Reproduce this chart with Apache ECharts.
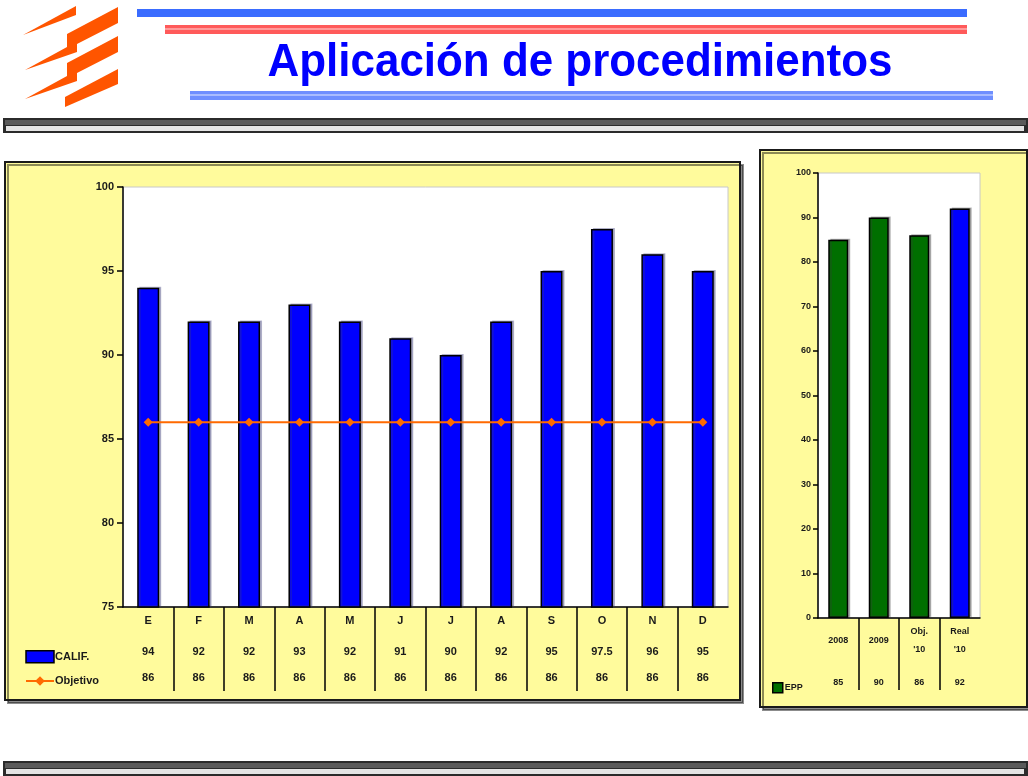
<!DOCTYPE html>
<html>
<head>
<meta charset="utf-8">
<script src="https://cdn.jsdelivr.net/npm/echarts@6/dist/echarts.min.js"></script>
<style>
  html, body { margin: 0; padding: 0; background: #fff; }
  #chart { width: 1028px; height: 776px; }
</style>
</head>
<body>
<div id="chart"></div>
<script>
// monthly chart
const months = ['E', 'F', 'M', 'A', 'M', 'J', 'J', 'A', 'S', 'O', 'N', 'D']
const califValues = [94, 92, 92, 93, 92, 91, 90, 92, 95, 97.5, 96, 95]
const objetivoValues = [86, 86, 86, 86, 86, 86, 86, 86, 86, 86, 86, 86]

// yearly chart
const years = ['2008', '2009', "Obj.\n'10", "Real\n'10"]
const eppValues = [85, 90, 86, 92]

const BLUE = '#0000ff'
const GREEN = '#006f00'
const ORANGE = '#ff6a00'
const YELLOW = '#fffb9c'
const FONT = '"Liberation Sans", Arial, sans-serif'

const chart = echarts.init(document.getElementById('chart'))

function panel(x, y, w, h) {
  return {
    type: 'rect',
    shape: { x, y, width: w, height: h },
    style: {
      fill: YELLOW,
      stroke: '#1a1a1a',
      lineWidth: 2,
      shadowColor: 'rgba(0,0,0,0.45)',
      shadowOffsetX: 3,
      shadowOffsetY: 3
    },
    z: -10
  }
}

function separator(y) {
  return [
    { type: 'rect', shape: { x: 3, y, width: 1025, height: 15 }, style: { fill: '#2b2b2b' }, z: -5 },
    { type: 'rect', shape: { x: 5, y: y + 2, width: 1021, height: 5 }, style: { fill: '#5a5a5a' }, z: -5 },
    { type: 'rect', shape: { x: 6, y: y + 8, width: 1018, height: 5 }, style: { fill: '#e4e4e4' }, z: -5 }
  ]
}

const logo = [
  [[23, 35], [76, 6], [76, 15]],
  [[25, 70], [67, 47], [67, 34], [118, 7], [118, 23], [77, 44], [77, 52]],
  [[25, 99], [67, 76], [67, 63], [118, 36], [118, 52], [77, 73], [77, 81]],
  [[65, 97], [118, 69], [118, 84], [65, 107]]
].map(points => ({
  type: 'polygon',
  shape: { points },
  style: { fill: '#ff5500' }
}))

const graphic = [
  ...logo,
  { type: 'rect', shape: { x: 137, y: 9, width: 830, height: 8 }, style: { fill: '#3a6cff' } },
  { type: 'rect', shape: { x: 165, y: 25, width: 802, height: 9 }, style: { fill: '#ff5a5a' } },
  { type: 'rect', shape: { x: 165, y: 28, width: 802, height: 2 }, style: { fill: '#ff9a9a' } },
  { type: 'rect', shape: { x: 190, y: 91, width: 803, height: 9 }, style: { fill: '#6f8fff' } },
  { type: 'rect', shape: { x: 190, y: 94, width: 803, height: 2 }, style: { fill: '#a9bcff' } },
  {
    type: 'text',
    x: 580,
    y: 63,
    scaleX: 0.955,
    style: {
      text: 'Aplicación de procedimientos',
      fill: BLUE,
      font: 'bold 46px ' + FONT,
      textAlign: 'center',
      textVerticalAlign: 'middle'
    }
  },
  ...separator(118),
  ...separator(761),
  panel(5, 162, 735, 538),
  panel(760, 150, 267, 557)
]

const axisText = { color: '#1a1a1a', fontFamily: FONT, fontWeight: 'bold' }

// helper axis: one point per category boundary, ticks only on the inner ones
function boundaryAxis(gridIndex, count, length) {
  return {
    type: 'category',
    gridIndex,
    boundaryGap: false,
    position: 'bottom',
    data: Array.from({ length: count + 1 }, (_, i) => String(i)),
    axisLine: { show: false },
    axisLabel: { show: false },
    axisTick: {
      show: true,
      interval: i => i > 0 && i < count,
      length,
      lineStyle: { color: '#000', width: 1.5 }
    }
  }
}

chart.setOption({
  animation: false,
  textStyle: { fontFamily: FONT },
  graphic,
  legend: [
    {
      data: [
        { name: 'CALIF.', icon: 'rect', itemStyle: { color: BLUE, borderColor: '#000', borderWidth: 1.5 } },
        { name: 'Objetivo' }
      ],
      orient: 'vertical',
      left: 20,
      top: 645,
      itemWidth: 28,
      itemHeight: 12,
      itemGap: 12,
      textStyle: { ...axisText, fontSize: 11, padding: [0, 0, 0, -4] }
    },
    {
      data: [{ name: 'EPP', icon: 'rect', itemStyle: { color: GREEN, borderColor: '#000', borderWidth: 1.5 } }],
      left: 767,
      top: 677,
      itemWidth: 10,
      itemHeight: 10,
      textStyle: { ...axisText, fontSize: 9, padding: [0, 0, 0, -3] }
    }
  ],
  grid: [
    { left: 123, top: 187, width: 605, height: 420, show: true, backgroundColor: '#fff', borderColor: '#c8c8c8', borderWidth: 1 },
    { left: 818, top: 173, width: 162, height: 445, show: true, backgroundColor: '#fff', borderColor: '#c8c8c8', borderWidth: 1 }
  ],
  xAxis: [
    {
      type: 'category',
      gridIndex: 0,
      data: months,
      axisLine: { lineStyle: { color: '#000', width: 1.5 } },
      axisTick: { show: false },
      axisLabel: {
        interval: 0,
        margin: -4,
        formatter: (value, i) => `{m|${value}}\n{v|${califValues[i]}}\n{v|${objetivoValues[i]}}`,
        rich: {
          m: { ...axisText, fontSize: 11, lineHeight: 36 },
          v: { ...axisText, fontSize: 11, lineHeight: 26 }
        }
      }
    },
    {
      type: 'category',
      gridIndex: 1,
      data: years,
      axisLine: { lineStyle: { color: '#000', width: 1.5 } },
      axisTick: { show: false },
      axisLabel: {
        interval: 0,
        margin: 5,
        formatter: (value, i) => {
          const parts = value.split('\n')
          const head = parts.length > 1
            ? parts.map(p => `{c|${p}}`).join('\n')
            : `{c2|${value}}`
          return `${head}\n{v|${eppValues[i]}}`
        },
        rich: {
          c: { ...axisText, fontSize: 9, lineHeight: 18 },
          c2: { ...axisText, fontSize: 9, lineHeight: 36 },
          v: { ...axisText, fontSize: 9, lineHeight: 48 }
        }
      }
    },
    boundaryAxis(0, months.length, 84),
    boundaryAxis(1, years.length, 72)
  ],
  yAxis: [
    {
      type: 'value',
      gridIndex: 0,
      min: 75,
      max: 100,
      interval: 5,
      splitLine: { show: false },
      axisLine: { show: true, lineStyle: { color: '#000', width: 1.5 } },
      axisTick: { show: true, length: 6, lineStyle: { color: '#000', width: 1.5 } },
      axisLabel: { ...axisText, fontSize: 11, margin: 9 }
    },
    {
      type: 'value',
      gridIndex: 1,
      min: 0,
      max: 100,
      interval: 10,
      splitLine: { show: false },
      axisLine: { show: true, lineStyle: { color: '#000', width: 1.5 } },
      axisTick: { show: true, length: 5, lineStyle: { color: '#000', width: 1.5 } },
      axisLabel: { ...axisText, fontSize: 9, margin: 7 }
    }
  ],
  series: [
    {
      name: 'CALIF.',
      type: 'bar',
      xAxisIndex: 0,
      yAxisIndex: 0,
      barWidth: 22,
      itemStyle: {
        color: BLUE,
        borderColor: '#000',
        borderWidth: 1.5,
        shadowColor: 'rgba(60,60,120,0.35)',
        shadowOffsetX: 2,
        shadowOffsetY: -1
      },
      data: califValues
    },
    {
      name: 'Objetivo',
      type: 'line',
      xAxisIndex: 0,
      yAxisIndex: 0,
      symbol: 'diamond',
      symbolSize: 9,
      lineStyle: { color: ORANGE, width: 2 },
      itemStyle: { color: ORANGE },
      data: objetivoValues
    },
    {
      name: 'EPP',
      type: 'bar',
      xAxisIndex: 1,
      yAxisIndex: 1,
      barWidth: 20,
      itemStyle: {
        color: params => params.dataIndex === years.length - 1 ? BLUE : GREEN,
        borderColor: '#000',
        borderWidth: 1.5,
        shadowColor: 'rgba(60,60,60,0.35)',
        shadowOffsetX: 2,
        shadowOffsetY: -1
      },
      data: eppValues
    }
  ]
})
</script>
</body>
</html>
